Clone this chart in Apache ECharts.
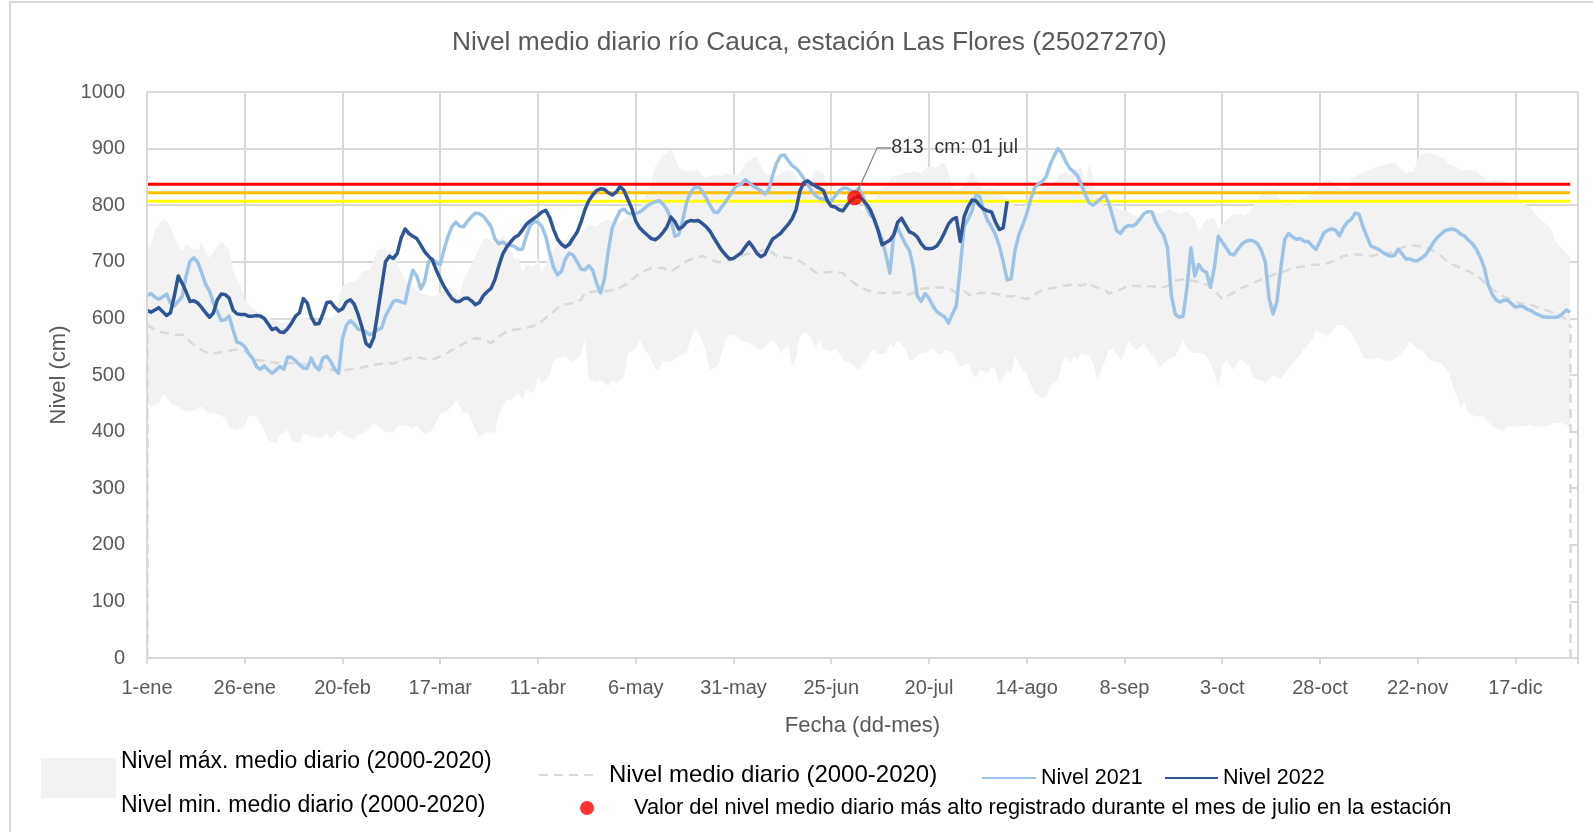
<!DOCTYPE html>
<html>
<head>
<meta charset="utf-8">
<title>Nivel medio diario río Cauca, estación Las Flores</title>
<script src="https://cdn.jsdelivr.net/npm/echarts@6/dist/echarts.min.js"></script>
<style>
  html, body { margin: 0; padding: 0; background: #fff; }
  #chart { width: 1593px; height: 832px; }
</style>
</head>
<body>
<div id="chart"></div>
<script>
// etiquetas del eje x, una cada 25 días desde el 1 de enero
const etiquetasFecha = ['1-ene', '26-ene', '20-feb', '17-mar', '11-abr', '6-may', '31-may', '25-jun',
  '20-jul', '14-ago', '8-sep', '3-oct', '28-oct', '22-nov', '17-dic'];

// [día del año (0 = 1-ene), nivel en cm]
const nivelMax = [[0,725],[1,729],[2,755],[4,775],[5,772],[6,760],[8,728],[9,719],[10,730],[11,725],[13,722],[14,733],[15,716],[16,707],[18,727],[19,736],[21,722],[22,683],[24,657],[25,633],[27,618],[29,609],[31,601],[32,598],[35,592],[37,598],[40,604],[42,595],[45,598],[48,604],[50,657],[51,663],[53,666],[54,671],[55,683],[57,686],[58,704],[59,722],[61,724],[63,713],[64,698],[65,683],[66,669],[68,657],[69,648],[70,645],[71,642],[73,639],[75,645],[77,657],[78,651],[80,639],[81,669],[83,695],[84,710],[86,739],[87,742],[89,733],[90,739],[91,748],[92,739],[94,704],[95,707],[96,680],[97,695],[99,692],[100,707],[101,683],[103,713],[104,722],[106,739],[107,739],[109,745],[110,745],[111,748],[112,757],[113,766],[115,763],[116,769],[118,775],[119,769],[121,770],[122,777],[124,786],[126,789],[127,810],[129,840],[130,869],[132,887],[134,899],[135,884],[136,866],[138,860],[139,860],[141,863],[142,851],[143,848],[144,851],[146,854],[147,851],[148,857],[150,854],[151,854],[152,860],[153,875],[155,884],[156,887],[157,869],[158,857],[160,851],[161,851],[163,860],[164,863],[165,860],[166,851],[167,834],[169,828],[170,848],[171,863],[173,857],[174,834],[175,801],[176,795],[178,795],[179,813],[180,822],[182,800],[183,790],[185,798],[186,807],[187,822],[189,834],[190,846],[191,851],[193,854],[194,857],[195,857],[196,860],[198,857],[199,863],[200,869],[202,866],[203,872],[204,875],[205,857],[206,831],[207,825],[209,834],[210,846],[211,860],[213,840],[214,828],[216,831],[217,828],[219,816],[220,813],[222,798],[223,795],[225,801],[227,801],[228,813],[230,828],[232,840],[233,851],[235,860],[236,851],[237,863],[239,866],[240,834],[241,875],[242,846],[243,815],[244,808],[245,796],[247,801],[249,792],[251,789],[252,784],[254,778],[256,781],[257,792],[259,784],[261,792],[262,792],[264,784],[266,789],[268,775],[269,754],[271,775],[273,778],[274,757],[275,769],[277,778],[278,784],[280,784],[281,781],[283,798],[284,810],[285,819],[287,825],[288,828],[289,819],[291,801],[292,801],[293,801],[295,810],[297,816],[298,822],[300,834],[301,843],[302,848],[303,843],[305,830],[307,828],[308,848],[310,854],[312,860],[314,866],[315,869],[317,872],[319,875],[320,869],[322,857],[324,860],[325,881],[326,890],[328,894],[330,887],[332,881],[333,872],[335,866],[337,860],[338,863],[340,860],[341,854],[343,843],[344,846],[345,846],[347,843],[349,834],[350,819],[352,804],[354,795],[355,784],[357,772],[359,760],[360,739],[362,722],[364,707]];

const nivelMin = [[0,450],[1,444],[3,450],[4,465],[5,462],[6,450],[8,444],[9,438],[11,435],[13,441],[14,444],[16,432],[18,430],[20,424],[21,409],[23,403],[25,409],[26,427],[28,427],[30,403],[31,385],[33,379],[34,394],[36,403],[37,385],[39,379],[40,397],[42,391],[44,388],[46,397],[47,388],[49,403],[51,392],[53,385],[54,395],[56,400],[58,415],[60,405],[61,400],[63,397],[64,409],[66,412],[68,405],[69,412],[71,394],[73,403],[75,432],[77,438],[78,445],[79,456],[81,432],[82,435],[84,403],[85,391],[87,400],[89,397],[90,432],[92,456],[93,456],[95,468],[96,456],[97,474],[99,468],[100,497],[101,485],[103,500],[104,524],[105,530],[107,533],[108,527],[109,524],[111,536],[112,562],[113,494],[115,488],[116,491],[118,480],[119,491],[120,485],[121,491],[122,497],[123,539],[125,547],[126,562],[127,550],[129,527],[130,512],[131,509],[132,524],[134,524],[135,527],[136,533],[138,539],[139,562],[140,583],[141,574],[142,562],[143,539],[144,509],[146,515],[147,539],[148,562],[149,571],[151,568],[152,562],[153,559],[155,553],[156,547],[157,545],[158,550],[160,562],[161,553],[162,539],[164,553],[165,515],[166,530],[167,568],[168,577],[169,574],[171,550],[172,562],[173,545],[175,542],[176,547],[177,539],[178,527],[180,521],[181,515],[182,509],[184,527],[185,539],[186,545],[187,536],[189,539],[190,556],[191,550],[192,562],[194,545],[195,527],[196,527],[198,539],[199,539],[201,547],[202,539],[203,536],[204,545],[206,539],[207,527],[208,515],[210,521],[211,506],[212,494],[213,509],[215,503],[216,515],[217,509],[218,485],[220,509],[221,503],[222,533],[224,509],[225,503],[226,483],[227,468],[229,459],[230,462],[231,480],[233,491],[234,521],[235,533],[236,521],[237,533],[238,527],[239,539],[241,533],[242,521],[243,491],[245,524],[246,545],[247,547],[249,527],[250,539],[251,559],[253,545],[254,550],[255,556],[256,545],[258,527],[259,512],[260,521],[262,530],[263,533],[265,562],[266,547],[267,542],[268,539],[270,539],[271,533],[272,521],[273,503],[274,477],[275,515],[276,527],[278,509],[279,524],[280,527],[282,515],[283,494],[285,491],[286,485],[288,500],[290,494],[291,503],[293,521],[295,536],[296,547],[298,562],[299,580],[301,571],[302,568],[304,586],[305,589],[306,588],[308,574],[310,550],[311,530],[313,527],[315,530],[316,527],[318,524],[320,533],[322,547],[323,559],[325,547],[326,545],[328,527],[329,524],[331,521],[333,503],[334,480],[336,444],[337,453],[338,432],[340,427],[342,427],[343,418],[345,406],[347,400],[348,409],[350,409],[352,409],[354,412],[355,409],[357,409],[359,412],[360,415],[362,415],[364,409]];

const nivelMedio = [[0,589],[2,580],[3,577],[7,571],[9,571],[12,553],[15,540],[18,539],[20,542],[23,545],[25,542],[28,527],[31,524],[34,520],[37,521],[41,518],[44,515],[48,508],[51,509],[54,512],[58,518],[61,521],[63,520],[65,526],[68,532],[70,530],[73,527],[76,536],[79,548],[82,559],[84,565],[86,563],[88,556],[90,568],[92,577],[94,580],[97,583],[100,589],[101,595],[104,612],[106,624],[109,627],[111,633],[112,645],[115,648],[117,648],[120,651],[123,662],[125,674],[127,683],[129,689],[132,689],[134,683],[136,692],[138,701],[140,707],[142,710],[144,705],[146,699],[148,701],[151,707],[153,713],[156,717],[158,722],[160,716],[161,710],[164,707],[166,705],[167,701],[169,692],[171,681],[174,681],[176,683],[178,680],[179,671],[181,662],[182,656],[185,648],[187,645],[190,645],[193,646],[195,642],[198,652],[200,654],[203,655],[205,654],[207,645],[209,648],[211,639],[213,645],[216,645],[218,642],[220,639],[222,639],[225,634],[227,642],[229,651],[232,654],[234,657],[237,660],[239,658],[241,663],[242,657],[245,651],[246,644],[249,651],[251,658],[254,657],[257,657],[259,654],[261,657],[263,666],[265,669],[268,666],[270,662],[272,657],[275,634],[277,642],[280,654],[283,662],[285,669],[288,677],[291,683],[293,689],[296,692],[298,695],[301,695],[304,703],[306,710],[308,713],[310,713],[313,710],[315,713],[318,716],[320,722],[323,730],[325,728],[328,724],[331,710],[333,698],[336,689],[338,683],[341,671],[343,657],[346,642],[349,633],[351,627],[354,624],[356,618],[359,612],[361,607],[363,598],[364,586]];

const nivel2021 = [[0,640],[1,644],[2,638],[3,634],[4,638],[5,643],[6,627],[7,622],[8,630],[9,639],[10,675],[11,701],[12,707],[13,699],[14,680],[15,660],[16,648],[17,627],[18,612],[19,596],[20,598],[21,604],[22,580],[23,558],[24,556],[25,550],[26,538],[27,530],[28,515],[29,510],[30,516],[31,509],[32,503],[33,509],[34,515],[35,510],[36,532],[37,531],[38,525],[39,518],[40,512],[41,512],[42,530],[43,515],[44,509],[45,530],[46,533],[47,524],[48,510],[49,503],[50,565],[51,588],[52,596],[53,590],[54,581],[55,580],[56,576],[57,571],[58,575],[59,580],[60,583],[61,604],[62,617],[63,630],[64,632],[65,629],[66,627],[67,660],[68,685],[69,675],[70,652],[71,665],[72,700],[73,705],[74,699],[75,695],[76,722],[77,745],[78,762],[79,770],[80,763],[81,762],[82,772],[83,780],[84,786],[85,785],[86,781],[87,772],[88,762],[89,740],[90,732],[91,735],[92,730],[93,730],[94,727],[95,722],[96,722],[97,745],[98,764],[99,771],[100,770],[101,762],[102,745],[103,715],[104,690],[105,677],[106,683],[107,705],[108,715],[109,712],[110,700],[111,687],[112,686],[113,693],[114,685],[115,662],[116,645],[117,670],[118,720],[119,760],[120,776],[121,790],[122,793],[123,786],[124,785],[125,785],[126,788],[127,793],[128,799],[129,803],[130,806],[131,808],[132,802],[133,792],[134,776],[135,745],[136,748],[137,773],[138,805],[139,822],[140,831],[141,832],[142,825],[143,813],[144,800],[145,788],[146,787],[147,797],[148,806],[149,817],[150,828],[151,835],[152,837],[153,845],[154,840],[155,834],[156,830],[157,826],[158,820],[159,827],[160,852],[161,874],[162,887],[163,889],[164,879],[165,870],[166,865],[167,857],[168,847],[169,837],[170,825],[171,817],[172,812],[173,811],[174,809],[175,807],[176,816],[177,825],[178,830],[179,830],[180,826],[181,823],[182,830],[183,818],[184,797],[185,782],[186,776],[187,757],[188,740],[189,712],[190,680],[191,748],[192,760],[193,745],[194,731],[195,720],[196,690],[197,640],[198,630],[199,644],[200,636],[201,622],[202,612],[203,607],[204,603],[205,592],[206,608],[207,622],[208,690],[209,763],[210,775],[211,790],[212,818],[213,815],[214,790],[215,773],[216,762],[217,748],[218,728],[219,700],[220,668],[221,670],[222,720],[223,748],[224,765],[225,785],[226,810],[227,830],[228,838],[229,842],[230,851],[231,872],[232,887],[233,900],[234,892],[235,877],[236,865],[237,859],[238,852],[239,836],[240,818],[241,804],[242,800],[243,806],[244,812],[245,819],[246,803],[247,780],[248,755],[249,750],[250,760],[251,764],[252,763],[253,767],[254,776],[255,785],[256,789],[257,788],[258,770],[259,758],[260,748],[261,725],[262,640],[263,607],[264,602],[265,604],[266,655],[267,725],[268,675],[269,695],[270,685],[271,681],[272,655],[273,690],[274,745],[275,735],[276,725],[277,714],[278,712],[279,722],[280,731],[281,736],[282,738],[283,737],[284,732],[285,720],[286,700],[287,635],[288,608],[289,630],[290,690],[291,740],[292,750],[293,744],[294,740],[295,741],[296,736],[297,736],[298,728],[299,722],[300,736],[301,751],[302,756],[303,758],[304,756],[305,746],[306,760],[307,770],[308,775],[309,786],[310,784],[311,762],[312,745],[313,728],[314,725],[315,722],[316,717],[317,713],[318,710],[319,711],[320,722],[321,714],[322,705],[323,705],[324,702],[325,702],[326,707],[327,712],[328,722],[329,734],[330,743],[331,749],[332,755],[333,757],[334,758],[335,755],[336,749],[337,745],[338,738],[339,732],[340,722],[341,708],[342,690],[343,660],[344,643],[345,633],[346,629],[347,632],[348,632],[349,626],[350,620],[351,622],[352,621],[353,616],[354,614],[355,609],[356,606],[357,603],[358,602],[359,602],[360,602],[361,603],[362,608],[363,615],[364,611]];

const nivel2022 = [[0,614],[1,611],[2,615],[3,619],[4,612],[5,605],[6,610],[7,640],[8,675],[9,662],[10,647],[11,630],[12,631],[13,627],[14,619],[15,610],[16,602],[17,610],[18,633],[19,643],[20,642],[21,636],[22,615],[23,608],[24,607],[25,607],[26,604],[27,604],[28,605],[29,604],[30,600],[31,590],[32,580],[33,583],[34,576],[35,575],[36,582],[37,592],[38,604],[39,610],[40,635],[41,627],[42,603],[43,590],[44,591],[45,608],[46,628],[47,629],[48,620],[49,613],[50,617],[51,629],[52,633],[53,625],[54,607],[55,584],[56,556],[57,550],[58,566],[59,610],[60,655],[61,700],[62,710],[63,706],[64,715],[65,742],[66,758],[67,750],[68,745],[69,741],[70,730],[71,718],[72,710],[73,703],[74,685],[75,670],[76,656],[77,645],[78,635],[79,630],[80,630],[81,635],[82,636],[83,631],[84,624],[85,628],[86,640],[87,647],[88,653],[89,669],[90,693],[91,714],[92,726],[93,735],[94,743],[95,747],[96,756],[97,766],[98,772],[99,777],[100,782],[101,788],[102,791],[103,778],[104,757],[105,740],[106,731],[107,726],[108,731],[109,742],[110,752],[111,770],[112,792],[113,808],[114,818],[115,826],[116,829],[117,828],[118,822],[119,818],[120,823],[121,833],[122,826],[123,810],[124,794],[125,772],[126,760],[127,753],[128,747],[129,741],[130,739],[131,744],[132,752],[133,762],[134,779],[135,771],[136,758],[137,762],[138,770],[139,773],[140,772],[141,773],[142,768],[143,762],[144,754],[145,742],[146,731],[147,720],[148,712],[149,705],[150,706],[151,711],[152,716],[153,726],[154,735],[155,726],[156,715],[157,709],[158,713],[159,727],[160,740],[161,745],[162,750],[163,758],[164,766],[165,776],[166,792],[167,825],[168,840],[169,843],[170,838],[171,834],[172,830],[173,826],[174,808],[175,798],[176,797],[177,792],[178,790],[179,800],[180,808],[181,813],[182,816],[183,810],[184,802],[185,792],[186,775],[187,755],[188,730],[189,734],[190,738],[191,748],[192,770],[193,777],[194,765],[195,753],[196,750],[197,744],[198,732],[199,724],[200,723],[201,724],[202,728],[203,738],[204,752],[205,767],[206,775],[207,778],[208,736],[209,780],[210,797],[211,809],[212,808],[213,799],[214,793],[215,790],[216,788],[217,770],[218,757],[219,760],[220,807]];

// umbrales de alerta (cm)
const umbrales = [837, 822, 807];
const coloresUmbral = ['#ff0000', '#ffc000', '#ffff00'];

// máximo de julio
const diaMaxJulio = 181;
const valorMaxJulio = 813;
const fechaMaxJulio = '01 jul';

const fuente = '"Liberation Sans", Arial, sans-serif';
const grisTexto = '#595959';
const grisLinea = '#d9d9d9';

const nombreMax = 'Nivel máx. medio diario (2000-2020)';
const nombreMin = 'Nivel min. medio diario (2000-2020)';
const nombreMedio = 'Nivel medio diario (2000-2020)';
const nombreMaxJulio = 'Valor del nivel medio diario más alto registrado durante el mes de julio en la estación';

const chart = echarts.init(document.getElementById('chart'));

const primerMedio = nivelMedio[0];
const ultimoMedio = nivelMedio[nivelMedio.length - 1];
const ultimoDia = nivel2021[nivel2021.length - 1][0];

// estilo común de las leyendas de línea (sin símbolo)
const leyendaLinea = { itemWidth: 54, itemHeight: 14, padding: 0, selectedMode: false, itemStyle: { opacity: 0 } };

const option = {
  animation: false,
  backgroundColor: '#fff',
  textStyle: { fontFamily: fuente },
  title: {
    text: 'Nivel medio diario río Cauca, estación Las Flores (25027270)',
    left: 452,
    top: 28,
    padding: 0,
    textStyle: { color: grisTexto, fontSize: 26.3, fontWeight: 'normal', fontFamily: fuente, lineHeight: 30 }
  },
  graphic: [{
    type: 'rect',
    silent: true,
    z: -10,
    shape: { x: 10, y: 2, width: 1620, height: 900 },
    style: { fill: 'none', stroke: grisLinea, lineWidth: 2 }
  }],
  grid: { left: 147, right: 15, top: 92, bottom: 174, containLabel: false, outerBoundsMode: 'none' },
  xAxis: [
    {
      // solo las líneas de la cuadrícula (quedan debajo de las áreas)
      type: 'value', position: 'bottom', min: 0, max: 366, interval: 25,
      axisLine: { show: false }, axisTick: { show: false }, axisLabel: { show: false },
      splitLine: { show: true, lineStyle: { color: grisLinea, width: 2 } }
    },
    {
      type: 'value', position: 'bottom', min: 0, max: 366, interval: 25, z: 10,
      name: 'Fecha (dd-mes)', nameLocation: 'middle', nameGap: 57,
      nameTextStyle: { color: grisTexto, fontSize: 22, fontFamily: fuente },
      axisLine: { show: true, lineStyle: { color: grisLinea, width: 2 } },
      axisTick: { show: true, length: 6, lineStyle: { color: grisLinea, width: 2 } },
      axisLabel: {
        show: true, margin: 20, color: grisTexto, fontSize: 20, fontFamily: fuente,
        formatter: v => (v % 25 === 0 && v / 25 < etiquetasFecha.length) ? etiquetasFecha[v / 25] : ''
      },
      splitLine: { show: false }
    }
  ],
  yAxis: [
    {
      type: 'value', position: 'left', min: 0, max: 1000, interval: 100,
      name: 'Nivel (cm)', nameLocation: 'middle', nameGap: 56,
      nameTextStyle: { color: grisTexto, fontSize: 22, fontFamily: fuente },
      axisLine: { show: false }, axisTick: { show: false },
      axisLabel: { color: grisTexto, fontSize: 20, margin: 22, fontFamily: fuente, formatter: v => String(v) },
      splitLine: { show: true, lineStyle: { color: grisLinea, width: 2 } }
    },
    {
      type: 'value', position: 'left', min: 0, max: 1000, interval: 100, z: 10,
      axisLine: { show: true, lineStyle: { color: grisLinea, width: 2 } },
      axisTick: { show: false }, axisLabel: { show: false }, splitLine: { show: false }
    }
  ],
  legend: [
    {
      data: [{ name: nombreMax, icon: 'rect' }],
      left: 41, top: 728, padding: 0, itemWidth: 75, itemHeight: 40, selectedMode: false,
      formatter: () => '{s| }\n{a|' + nombreMax + '}\n{a|' + nombreMin + '}',
      textStyle: {
        color: '#000', fontFamily: fuente,
        rich: {
          s: { fontSize: 2, lineHeight: 12, height: 12 },
          a: { color: '#000', fontSize: 23, lineHeight: 44, fontFamily: fuente }
        }
      }
    },
    Object.assign({}, leyendaLinea, {
      data: [nombreMedio], left: 538, top: 763, itemWidth: 56,
      textStyle: { color: '#000', fontSize: 24, lineHeight: 24, fontFamily: fuente, padding: [0, 0, 0, 9] }
    }),
    Object.assign({}, leyendaLinea, {
      data: ['Nivel 2021'], left: 981, top: 766,
      textStyle: { color: '#000', fontSize: 21.5, lineHeight: 24, fontFamily: fuente }
    }),
    Object.assign({}, leyendaLinea, {
      data: ['Nivel 2022'], left: 1164, top: 766, itemWidth: 53,
      textStyle: { color: '#000', fontSize: 21.5, lineHeight: 24, fontFamily: fuente }
    }),
    {
      data: [{ name: nombreMaxJulio, icon: 'circle' }],
      left: 580, top: 796, padding: 0, itemWidth: 14, itemHeight: 14, selectedMode: false,
      textStyle: { color: '#000', fontSize: 21.8, lineHeight: 24, fontFamily: fuente, padding: [0, 0, 0, 35] }
    }
  ],
  series: [
    {
      name: nombreMax, type: 'line', data: nivelMax, color: '#f2f2f2',
      symbol: 'none', lineStyle: { width: 0 }, areaStyle: { color: '#f2f2f2', opacity: 1 }, silent: true, z: 1
    },
    {
      name: nombreMin, type: 'line', data: nivelMin, color: '#ffffff',
      symbol: 'none', lineStyle: { width: 0 }, areaStyle: { color: '#ffffff', opacity: 1 }, silent: true, z: 1
    },
    {
      name: nombreMedio, type: 'line', data: nivelMedio, color: grisLinea,
      symbol: 'none', lineStyle: { color: grisLinea, width: 2.5, type: [9, 6] }, z: 2,
      markLine: {
        silent: true, symbol: 'none', label: { show: false },
        lineStyle: { color: grisLinea, width: 2.5, type: [9, 6] },
        data: [
          [{ coord: [primerMedio[0], 0] }, { coord: primerMedio }],
          [{ coord: [ultimoMedio[0], 0] }, { coord: ultimoMedio }]
        ]
      }
    },
    ...umbrales.map((u, i) => ({
      name: 'umbral' + i, type: 'line', data: [[0, u], [ultimoDia, u]],
      symbol: 'none', lineStyle: { color: coloresUmbral[i], width: 3 }, silent: true, z: 3
    })),
    {
      name: 'Nivel 2021', type: 'line', data: nivel2021, color: '#9dc3e6',
      symbol: 'none', lineStyle: { color: '#9dc3e6', width: 3.5, join: 'round' }, z: 4
    },
    {
      name: 'Nivel 2022', type: 'line', data: nivel2022, color: '#2f5597',
      symbol: 'none', lineStyle: { color: '#2f5597', width: 3.5, join: 'round' }, z: 5
    },
    {
      name: nombreMaxJulio, type: 'scatter', data: [[diaMaxJulio, valorMaxJulio]],
      symbolSize: 15, color: '#ff0000', itemStyle: { color: '#ff0000' }, z: 6,
      label: {
        show: true, position: 'right', color: '#000', fontSize: 19.5, fontFamily: fuente,
        formatter: valorMaxJulio + '  cm: ' + fechaMaxJulio
      },
      labelLayout: { dx: 24, dy: -50 },
      labelLine: { show: true, length2: 14, lineStyle: { color: '#808080', width: 1.2 } }
    }
  ]
};

chart.setOption(option);
</script>
</body>
</html>
